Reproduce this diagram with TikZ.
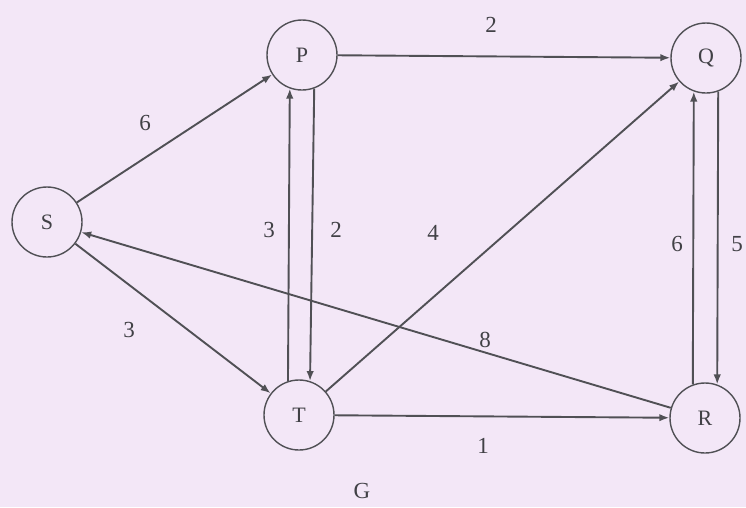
\documentclass[tikz,border=0pt]{standalone}
\usepackage{fontspec}
\setmainfont{Liberation Serif}
\usetikzlibrary{arrows.meta}
\definecolor{bgc}{RGB}{243,231,247}
\definecolor{edgec}{RGB}{80,80,85}
\definecolor{txtc}{RGB}{65,65,70}
\begin{document}
\begin{tikzpicture}[x=1pt,y=-1pt,
  vtx/.style={circle,draw=edgec,line width=1.4pt,minimum size=70pt,inner sep=0pt,font=\fontsize{22}{22}\selectfont,text=txtc},
  edge/.style={draw=edgec,line width=1.9pt,-{Latex[length=10pt,width=7.5pt]}},
  wlab/.style={font=\fontsize{23}{23}\selectfont,text=txtc,inner sep=0pt}]
\fill[bgc] (0,0) rectangle (746,507);
\useasboundingbox (0,0) rectangle (746,507);
\node[vtx] (S) at (47,222) {S};
\node[vtx] (P) at (302,55) {P};
\node[vtx] (Q) at (706,58) {Q};
\node[vtx] (T) at (299,415) {T};
\node[vtx] (R) at (705,418) {R};
\draw[edge] (S) -- (P);
\draw[edge] (P) -- (Q);
\draw[edge] (T.108) -- (P.250);
\draw[edge] (P.290) -- (T.72);
\draw[edge] (S) -- (T);
\draw[edge] (T) -- (Q);
\draw[edge] (R) -- (S);
\draw[edge] (T) -- (R);
\draw[edge] (R.110) -- (Q.250);
\draw[edge] (Q.290) -- (R.70);
\node[wlab] (l6a) at (145,123) {6};
\node[wlab] (l2a) at (491,25) {2};
\node[wlab] (l3a) at (269,230) {3};
\node[wlab] (l2b) at (336,230) {2};
\node[wlab] (l3b) at (129,330) {3};
\node[wlab] (l4) at (433,233) {4};
\node[wlab] (l8) at (485,340) {8};
\node[wlab] (l1) at (483,446) {1};
\node[wlab] (l6b) at (677,244) {6};
\node[wlab] (l5) at (737,244) {5};
\node[wlab] (G) at (362,491) {G};
\end{tikzpicture}
\end{document}
